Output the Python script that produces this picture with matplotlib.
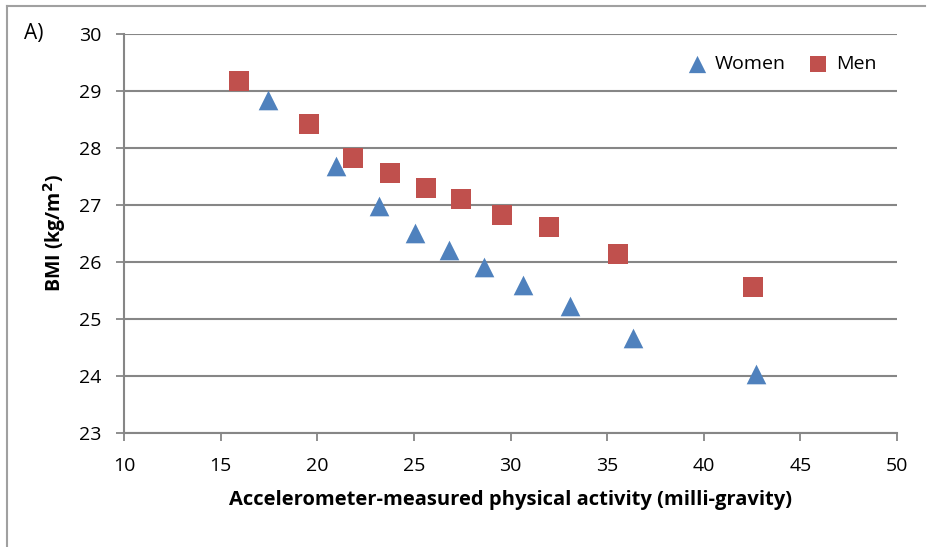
import matplotlib
matplotlib.use("Agg")
import matplotlib.pyplot as plt
from matplotlib.lines import Line2D

plt.rcParams["font.family"] = ["Open Sans", "DejaVu Sans"]

# Mean BMI by fifth of accelerometer-measured activity
women_activity = [17.45, 20.97, 23.19, 25.05, 26.81, 28.62, 30.64, 33.07, 36.33, 42.69]
women_bmi = [28.84, 27.68, 26.98, 26.51, 26.21, 25.91, 25.60, 25.23, 24.67, 24.04]
men_activity = [15.95, 19.57, 21.85, 23.76, 25.62, 27.43, 29.55, 31.99, 35.56, 42.54]
men_bmi = [29.18, 28.42, 27.82, 27.56, 27.30, 27.11, 26.82, 26.61, 26.14, 25.56]

x_ticks = [10, 15, 20, 25, 30, 35, 40, 45, 50]
y_ticks = [23, 24, 25, 26, 27, 28, 29, 30]

BLUE = "#4F81BD"
RED = "#C0504D"
GRAY = "#868686"

W, H = 931, 547
fig = plt.figure(figsize=(W / 100, H / 100), dpi=100)
ax = fig.add_axes([124 / W, 1 - 433 / H, (897 - 124) / W, (433 - 34) / H])

ax.scatter(women_activity, women_bmi, marker="^", s=200, color=BLUE,
           linewidths=0, label="Women", zorder=3)
ax.scatter(men_activity, men_bmi, marker="s", s=190, color=RED,
           linewidths=0, label="Men", zorder=3)

ax.set_xlim(10, 50)
ax.set_ylim(23, 30)
ax.set_xticks(x_ticks)
ax.set_yticks(y_ticks)
ax.grid(axis="y", color=GRAY, linewidth=1.5)
ax.set_axisbelow(True)
for side in ("top", "right"):
    ax.spines[side].set_visible(False)
for side in ("left", "bottom"):
    ax.spines[side].set_color(GRAY)
    ax.spines[side].set_linewidth(1.5)
ax.tick_params(colors=GRAY, labelcolor="black", labelsize=14, length=6,
               width=1.3, direction="out")
ax.tick_params(axis="x", pad=11)
ax.tick_params(axis="y", pad=10)

ax.set_xlabel("Accelerometer-measured physical activity (milli-gravity)",
              fontsize=14.5, fontweight="bold", labelpad=11)
ax.set_ylabel("BMI (kg/m$^\\mathbf{2}$)", fontsize=14, fontweight="bold",
              labelpad=8)

ax.legend(loc="upper right", bbox_to_anchor=(0.996, 0.99), ncol=2, frameon=False,
          fontsize=14, handletextpad=-0.1, columnspacing=0.7, markerscale=0.88)

fig.text(24 / W, 1 - 34 / H, "A)", fontsize=15, va="center", ha="left")

# light frame around the panel
fig.add_artist(Line2D([7 / W, 7 / W], [0, 1 - 6 / H], color="#A0A0A0",
                      linewidth=1.5, transform=fig.transFigure))
fig.add_artist(Line2D([7 / W, 925 / W], [1 - 6 / H, 1 - 6 / H], color="#A0A0A0",
                      linewidth=1.5, transform=fig.transFigure))

fig.savefig("out.png", dpi=100)
